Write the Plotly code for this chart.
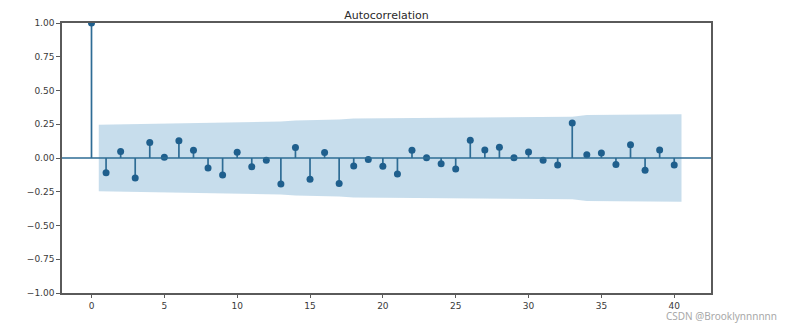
import plotly.graph_objects as go

# Sample autocorrelation, lags 0..40
lags = list(range(41))
acf_values = [
    1.0, -0.109, 0.049, -0.148, 0.114, 0.005, 0.128, 0.057, -0.074, -0.126,
    0.042, -0.064, -0.017, -0.193, 0.077, -0.158, 0.040, -0.188, -0.059, -0.012,
    -0.062, -0.119, 0.057, 0.002, -0.042, -0.081, 0.131, 0.059, 0.079, 0.002,
    0.044, -0.017, -0.052, 0.259, 0.025, 0.037, -0.049, 0.099, -0.091, 0.059,
    -0.052,
]
# Half-width of the 95% confidence band (Bartlett), lags 1..40
conf_half = [
    0.2470, 0.2499, 0.2505, 0.2558, 0.2589, 0.2589, 0.2627, 0.2635, 0.2647, 0.2684,
    0.2688, 0.2697, 0.2698, 0.2780, 0.2793, 0.2847, 0.2851, 0.2926, 0.2933, 0.2933,
    0.2941, 0.2970, 0.2977, 0.2977, 0.2981, 0.2994, 0.3029, 0.3036, 0.3048, 0.3048,
    0.3052, 0.3053, 0.3058, 0.3189, 0.3190, 0.3193, 0.3198, 0.3216, 0.3232, 0.3238,
]
y_ticks = [-1.0, -0.75, -0.5, -0.25, 0.0, 0.25, 0.5, 0.75, 1.0]
x_ticks = [0, 5, 10, 15, 20, 25, 30, 35, 40]

LINE_C = "#2e6c95"
MARK_C = "#1f5f8d"

# band x positions: lags 1..40 with the ends pushed out by half a lag
band_x = [float(k) for k in lags[1:]]
band_x[0] -= 0.5
band_x[-1] += 0.5

fig = go.Figure()

# confidence band
fig.add_trace(go.Scatter(
    x=band_x, y=[h for h in conf_half], mode="lines",
    line=dict(width=0), hoverinfo="skip", showlegend=False,
))
fig.add_trace(go.Scatter(
    x=band_x, y=[-h for h in conf_half], mode="lines",
    line=dict(width=0), fill="tonexty", fillcolor="rgba(31,119,180,0.25)",
    hoverinfo="skip", showlegend=False,
))

# zero line across the whole axis
fig.add_hline(y=0, line=dict(color=LINE_C, width=1.6))

# stems
stem_x, stem_y = [], []
for k, v in zip(lags, acf_values):
    stem_x += [k, k, None]
    stem_y += [0, v, None]
fig.add_trace(go.Scatter(
    x=stem_x, y=stem_y, mode="lines",
    line=dict(color=LINE_C, width=1.7), hoverinfo="skip", showlegend=False,
))

# markers
fig.add_trace(go.Scatter(
    x=lags, y=acf_values, mode="markers",
    marker=dict(color=MARK_C, size=7), cliponaxis=True, showlegend=False,
))

axis_common = dict(
    showgrid=False, zeroline=False, showline=True, mirror=True,
    linecolor="#5a5a5a", linewidth=1.5,
    ticks="outside", tickwidth=1, tickcolor="#5a5a5a",
    tickfont=dict(family="DejaVu Sans", size=9, color="#3a3a3a"),
)

fig.update_xaxes(
    range=[-2.025, 42.525], tickvals=x_ticks, ticklen=3,
    ticktext=[str(t) for t in x_ticks], **axis_common,
)
fig.update_yaxes(
    range=[-1.0, 1.0], tickvals=y_ticks, ticklen=4,
    ticktext=[("\u2212" if t < 0 else "") + f"{abs(t):.2f}" for t in y_ticks],
    **axis_common,
)

fig.update_layout(
    width=790, height=324,
    margin=dict(l=62, r=79, t=23, b=31),
    paper_bgcolor="white", plot_bgcolor="white",
    title=dict(
        text="Autocorrelation", x=0.5, xref="paper", y=1, yref="paper",
        yanchor="bottom", pad=dict(b=4),
        font=dict(family="DejaVu Sans", size=11, color="#2a2a2a"),
    ),
    annotations=[dict(
        text="CSDN @Brooklynnnnnn", xref="paper", yref="paper",
        x=1.0 + 67 / 649, y=-30.8 / 270, xanchor="right", yanchor="bottom",
        showarrow=False, borderpad=0,
        font=dict(family="Noto Sans", size=10, color="#a8a8a8"),
    )],
)

fig.write_html("out.html")
